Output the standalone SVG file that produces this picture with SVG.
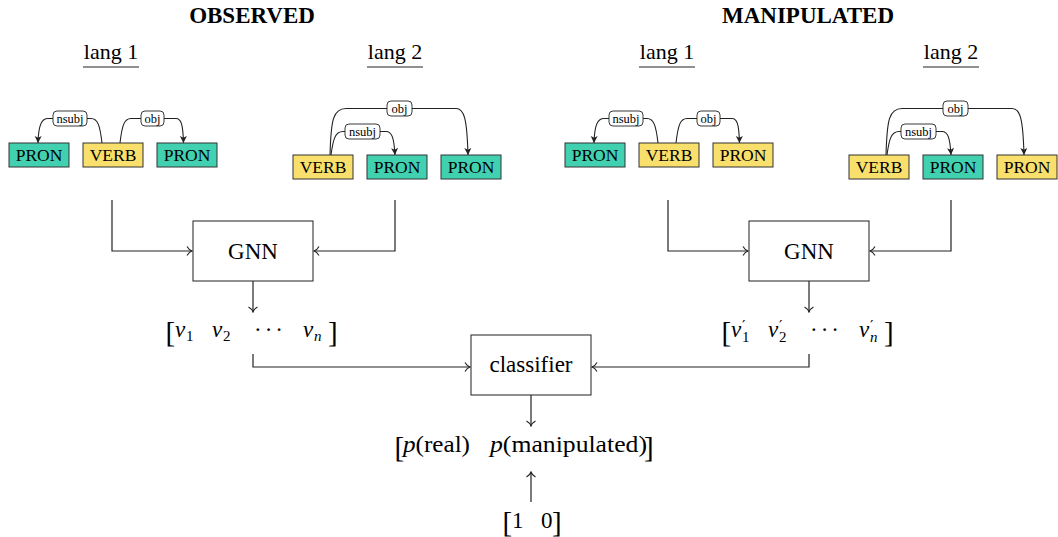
<svg xmlns="http://www.w3.org/2000/svg" width="1058" height="537" viewBox="0 0 1058 537">
<style>
text{font-family:"Liberation Serif","Times New Roman",serif;fill:#000}
.title{font-size:23px;font-weight:bold;text-anchor:middle}
.lang{font-size:22px;text-anchor:middle}
.big{font-size:23px;text-anchor:middle}
.tok{font-size:17.5px;text-anchor:middle}
.lbl{font-size:12.5px;text-anchor:middle}
.m{font-size:23px;font-style:italic}
.sub{font-size:15px}
.subi{font-size:15px;font-style:italic}
.pr{font-size:15px;font-family:"DejaVu Serif",serif}
.br{font-size:29px}
.dots{font-size:23px;letter-spacing:3px;text-anchor:middle}
.teal{fill:#42D1B0;stroke:#333;stroke-width:1}
.yel{fill:#F9DF6C;stroke:#333;stroke-width:1}
.lab{fill:#fff;stroke:#222;stroke-width:0.9}
.box{fill:#fff;stroke:#333;stroke-width:1.1}
.ul{stroke:#222;stroke-width:1.2}
.dep{fill:none;stroke:#222;stroke-width:1.1;marker-end:url(#dh)}
.con{fill:none;stroke:#222;stroke-width:1.2;marker-end:url(#ah)}
</style>
<defs>
<marker id="dh" markerUnits="userSpaceOnUse" viewBox="-8 -5 9 10" refX="0" refY="0" markerWidth="9" markerHeight="10" orient="auto">
<path d="M0,0 L-7,-3.5 L-5.2,0 L-7,3.5 Z" fill="#222"/>
</marker>
<marker id="ah" markerUnits="userSpaceOnUse" viewBox="-7 -6 8 12" refX="0" refY="0" markerWidth="8" markerHeight="12" orient="auto">
<path d="M-5,-4.5 C-3.5,-1.8 -1.5,-0.5 0,0 C-1.5,0.5 -3.5,1.8 -5,4.5" fill="none" stroke="#222" stroke-width="1.1"/>
</marker>
</defs>

<g id="headers">
<text class="title" x="252" y="23">OBSERVED</text>
<text class="title" x="808" y="23">MANIPULATED</text>
<text class="lang" x="111" y="59">lang 1</text>
<line class="ul" x1="83" y1="67" x2="139" y2="67"/>
<text class="lang" x="395" y="59">lang 2</text>
<line class="ul" x1="367" y1="67" x2="423" y2="67"/>
<text class="lang" x="667" y="59">lang 1</text>
<line class="ul" x1="639" y1="67" x2="695" y2="67"/>
<text class="lang" x="951" y="59">lang 2</text>
<line class="ul" x1="923" y1="67" x2="979" y2="67"/>
</g>

<g id="connectors">
<path class="dep" d="M102,143 C100,126 98,118.5 91,118.5 L48,118.5 C42,118.5 38.5,124 38,143"/>
<path class="dep" d="M120,143 C122,126 124,118.5 131,118.5 L176,118.5 C181,118.5 183,124 183.5,143"/>
<path class="dep" d="M330,155 C331,120 333,108.5 346,108.5 L456,108.5 C464,108.5 467,118 468,155"/>
<path class="dep" d="M331,155 C333,140 335,131.5 343,131.5 L386,131.5 C392,131.5 394,138 395,155"/>
<path class="dep" d="M658,143 C656,126 654,118.5 647,118.5 L604,118.5 C598,118.5 594.5,124 594,143"/>
<path class="dep" d="M676,143 C678,126 680,118.5 687,118.5 L732,118.5 C737,118.5 739,124 739.5,143"/>
<path class="dep" d="M886,155 C887,120 889,108.5 902,108.5 L1012,108.5 C1020,108.5 1023,118 1024,155"/>
<path class="dep" d="M887,155 C889,140 891,131.5 899,131.5 L942,131.5 C948,131.5 950,138 951,155"/>
<path class="con" d="M112,200 L112,251 L192,251"/>
<path class="con" d="M395,200 L395,251 L314,251"/>
<path class="con" d="M253,281 L253,312"/>
<path class="con" d="M668,200 L668,251 L748,251"/>
<path class="con" d="M951,200 L951,251 L870,251"/>
<path class="con" d="M809,281 L809,312"/>
<path class="con" d="M253,354 L253,367 L470,367"/>
<path class="con" d="M809,354 L809,367 L592,367"/>
<path class="con" d="M531,395 L531,426"/>
<path class="con" d="M531,502 L531,472"/>
</g>

<g id="labels">
<rect class="lab" x="53" y="111" width="34" height="15" rx="4"/><text class="lbl" x="70" y="122.5">nsubj</text>
<rect class="lab" x="141" y="111" width="23" height="15" rx="4"/><text class="lbl" x="152.5" y="122.5">obj</text>
<rect class="lab" x="387" y="101" width="25" height="15" rx="4"/><text class="lbl" x="399.5" y="112.5">obj</text>
<rect class="lab" x="345" y="124" width="35" height="15" rx="4"/><text class="lbl" x="362.5" y="135.5">nsubj</text>
<rect class="lab" x="609" y="111" width="34" height="15" rx="4"/><text class="lbl" x="626" y="122.5">nsubj</text>
<rect class="lab" x="697" y="111" width="23" height="15" rx="4"/><text class="lbl" x="708.5" y="122.5">obj</text>
<rect class="lab" x="943" y="101" width="25" height="15" rx="4"/><text class="lbl" x="955.5" y="112.5">obj</text>
<rect class="lab" x="901" y="124" width="35" height="15" rx="4"/><text class="lbl" x="918.5" y="135.5">nsubj</text>
</g>

<g id="obs-l1-pron1"><rect class="teal" x="9" y="143" width="60" height="24"/><text class="tok" x="39" y="161">PRON</text></g>
<g id="obs-l1-verb"><rect class="yel" x="83" y="143" width="60" height="24"/><text class="tok" x="113" y="161">VERB</text></g>
<g id="obs-l1-pron2"><rect class="teal" x="157" y="143" width="60" height="24"/><text class="tok" x="187" y="161">PRON</text></g>
<g id="obs-l2-verb"><rect class="yel" x="293" y="155" width="60" height="24"/><text class="tok" x="323" y="173">VERB</text></g>
<g id="obs-l2-pron1"><rect class="teal" x="367" y="155" width="60" height="24"/><text class="tok" x="397" y="173">PRON</text></g>
<g id="obs-l2-pron2"><rect class="teal" x="441" y="155" width="60" height="24"/><text class="tok" x="471" y="173">PRON</text></g>
<g id="man-l1-pron1"><rect class="teal" x="565" y="143" width="60" height="24"/><text class="tok" x="595" y="161">PRON</text></g>
<g id="man-l1-verb"><rect class="yel" x="639" y="143" width="60" height="24"/><text class="tok" x="669" y="161">VERB</text></g>
<g id="man-l1-pron2"><rect class="yel" x="713" y="143" width="60" height="24"/><text class="tok" x="743" y="161">PRON</text></g>
<g id="man-l2-verb"><rect class="yel" x="849" y="155" width="60" height="24"/><text class="tok" x="879" y="173">VERB</text></g>
<g id="man-l2-pron1"><rect class="teal" x="923" y="155" width="60" height="24"/><text class="tok" x="953" y="173">PRON</text></g>
<g id="man-l2-pron2"><rect class="yel" x="997" y="155" width="60" height="24"/><text class="tok" x="1027" y="173">PRON</text></g>

<g id="gnn-obs"><rect class="box" x="193" y="221" width="120" height="60"/><text class="big" x="253" y="259">GNN</text></g>
<g id="gnn-man"><rect class="box" x="749" y="221" width="120" height="60"/><text class="big" x="809" y="259">GNN</text></g>

<g id="vec-obs">
<text class="br" x="165.5" y="342">[</text>
<text class="m" x="175" y="337">v</text><text class="sub" x="186" y="341">1</text>
<text class="m" x="212" y="337">v</text><text class="sub" x="223" y="341">2</text>
<text class="dots" x="270" y="337">···</text>
<text class="m" x="303" y="337">v</text><text class="subi" x="314" y="341">n</text>
<text class="br" x="328" y="342">]</text>
</g>

<g id="vec-man">
<text class="br" x="721.5" y="342">[</text>
<text class="m" x="731" y="337">v</text><text class="pr" x="742" y="331">′</text><text class="sub" x="742" y="342">1</text>
<text class="m" x="768" y="337">v</text><text class="pr" x="779" y="331">′</text><text class="sub" x="779" y="342">2</text>
<text class="dots" x="826" y="337">···</text>
<text class="m" x="859" y="337">v</text><text class="pr" x="870" y="331">′</text><text class="subi" x="870" y="342">n</text>
<text class="br" x="884" y="342">]</text>
</g>

<g id="classifier"><rect class="box" x="471" y="335" width="120" height="60"/><text class="big" x="531" y="372">classifier</text></g>

<g id="prob-vec">
<text class="br" x="394.5" y="457">[</text>
<text x="403" y="452" font-size="24" textLength="67" lengthAdjust="spacingAndGlyphs"><tspan font-style="italic">p</tspan>(real)</text>
<text x="490" y="452" font-size="24" textLength="157" lengthAdjust="spacingAndGlyphs"><tspan font-style="italic">p</tspan>(manipulated)</text>
<text class="br" x="644" y="457">]</text>
</g>

<g id="target-vec">
<text class="br" x="502.5" y="532" font-size="27">[</text>
<text x="512" y="528" font-size="23">1</text>
<text x="541" y="528" font-size="23">0</text>
<text class="br" x="552" y="532" font-size="27">]</text>
</g>
</svg>
